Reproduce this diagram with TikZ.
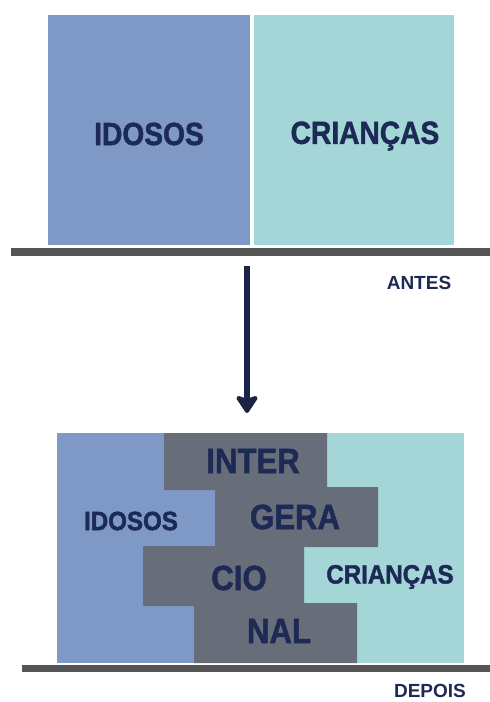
\documentclass[tikz,border=0pt]{standalone}
\usepackage{fontspec}
\setmainfont{Liberation Sans}
\newfontfamily\heavyfont{Liberation Sans}[BoldFeatures={FakeBold=1.6}]
\usetikzlibrary{arrows.meta}

\definecolor{idosblue}{HTML}{7F99C6}
\definecolor{crianteal}{HTML}{A4D5D7}
\definecolor{geragray}{HTML}{676D79}
\definecolor{floorgray}{HTML}{555555}
\definecolor{labelnavy}{HTML}{1C2A55}
\definecolor{arrownavy}{HTML}{1B2447}

\tikzset{
	block/.style={shape=rectangle, inner sep=0pt, outer sep=0pt},
	biglbl/.style={font=\heavyfont\bfseries\fontsize{32}{32}\selectfont, text=labelnavy, xscale=0.88, inner sep=0pt},
	midlbl/.style={font=\heavyfont\bfseries\fontsize{35}{35}\selectfont, text=labelnavy, xscale=0.89, inner sep=0pt},
	smalllbl/.style={font=\heavyfont\bfseries\fontsize{26.5}{26.5}\selectfont, text=labelnavy, xscale=0.91, inner sep=0pt},
	steplbl/.style={font=\bfseries\fontsize{19}{19}\selectfont, text=labelnavy, inner sep=0pt},
}

\begin{document}
\begin{tikzpicture}[x=1pt, y=-1pt]
				\useasboundingbox (0, 0) rectangle (490, 702);
				% Paths, nodes and wires:
				\node[block, fill=idosblue, minimum width=202pt, minimum height=230pt] (idosA) at (149, 130){};
				\node[block, fill=crianteal, minimum width=200pt, minimum height=230pt] (criancasA) at (354, 130){};
				\node[biglbl] at (149, 134) {IDOSOS};
				\node[biglbl] at (365, 136) {CRIANÇAS};
				\fill[floorgray] (11, 248) rectangle (490, 256);
				\node[steplbl] (antes) at (419, 283) {ANTES};
				\coordinate (arrowtop) at (247, 266);
				\coordinate (arrowend) at (247, 413);
				\draw[arrownavy, line width=6pt, -{Stealth[length=20pt, width=26pt, inset=4pt, round]}] (arrowtop) -- (arrowend);
				\node[block, fill=idosblue, minimum width=203pt, minimum height=230pt] (idosB) at (158.5, 548){};
				\node[block, fill=crianteal, minimum width=204pt, minimum height=230pt] (criancasB) at (362, 548){};
				\fill[geragray] (164, 433) -- (327, 433) -- (327, 487) -- (378, 487) -- (378, 547) -- (304, 547) -- (304, 603) -- (357, 603) -- (357, 663) -- (194, 663) -- (194, 606) -- (143, 606) -- (143, 546) -- (215, 546) -- (215, 490) -- (164, 490) -- cycle;
				\node[smalllbl] at (131, 521) {IDOSOS};
				\node[smalllbl] at (390, 577) {CRIANÇAS};
				\node[midlbl] (inter) at (253, 461) {INTER};
				\node[midlbl] (gera) at (295, 517) {GERA};
				\node[midlbl] (cio) at (239, 578) {CIO};
				\node[midlbl] (nal) at (279, 631) {NAL};
				\fill[floorgray] (22, 665) rectangle (490, 672);
				\node[steplbl] (depois) at (430, 691) {DEPOIS};
			\end{tikzpicture}
\end{document}
